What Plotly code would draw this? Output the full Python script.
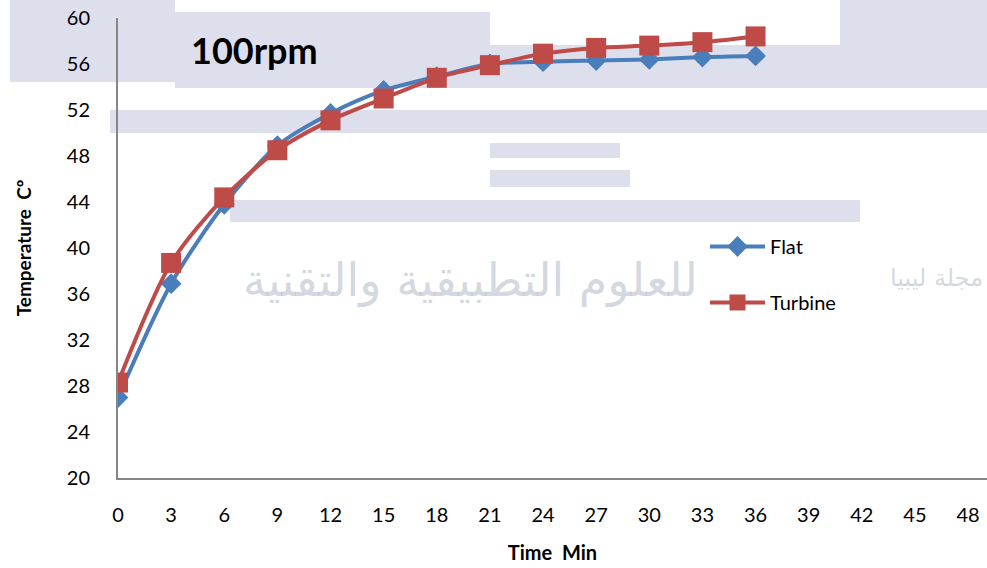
import plotly.graph_objects as go

time_min = [0, 3, 6, 9, 12, 15, 18, 21, 24, 27, 30, 33, 36]
flat = [27.0, 36.9, 43.8, 48.9, 51.7, 53.7, 54.9, 56.0, 56.2, 56.3, 56.4, 56.6, 56.7]
turbine = [28.3, 38.7, 44.4, 48.5, 51.1, 53.0, 54.8, 55.9, 56.9, 57.4, 57.6, 57.9, 58.4]
x_ticks = list(range(0, 49, 3))
y_ticks = list(range(20, 61, 4))

FONT = "Lato"
W, H = 987, 568
ML, MR, MT, MB = 118, 0, 18, 90
PW, PH = W - ML - MR, H - MT - MB


def px(x):
    return (x - ML) / PW


def py(y):
    return (H - MB - y) / PH


fig = go.Figure()
fig.add_trace(go.Scatter(
    x=time_min, y=flat, name="Flat", mode="lines+markers",
    line=dict(color="#4a7ebb", width=4, shape="spline", smoothing=0.8),
    marker=dict(symbol="diamond", size=16, color="#4a7ebb"),
    legendgroup="a",
))
fig.add_trace(go.Scatter(
    x=time_min, y=turbine, name="Turbine", mode="lines+markers",
    line=dict(color="#be4b48", width=4, shape="spline", smoothing=0.8),
    marker=dict(symbol="square", size=20, color="#be4b48"),
    legendgroup="b",
))

# faint watermark bands of the scanned page (decoration, pixel boxes)
bands = [
    (10, 175, 0, 82),
    (175, 490, 12, 88),
    (490, 987, 45, 88),
    (840, 987, 0, 45),
    (110, 987, 110, 133),
    (490, 620, 143, 158),
    (490, 630, 170, 187),
    (230, 860, 200, 222),
]
for x0, x1, y0, y1 in bands:
    fig.add_shape(type="rect", xref="paper", yref="paper",
                  x0=px(x0), x1=px(x1), y0=py(y1), y1=py(y0),
                  fillcolor="rgba(208,210,230,0.7)", line=dict(width=0), layer="below")

WM = "rgba(175,183,198,0.55)"
fig.add_annotation(
    text="للعلوم التطبيقية والتقنية", xref="paper", yref="paper",
    x=px(700), y=py(280), xanchor="right", yanchor="middle", showarrow=False,
    font=dict(family="DejaVu Sans", size=46, color=WM),
)
fig.add_annotation(
    text="مجلة ليبيا", xref="paper", yref="paper",
    x=px(985), y=py(278), xanchor="right", yanchor="middle", showarrow=False,
    font=dict(family="DejaVu Sans", size=24, color=WM),
)

fig.add_annotation(
    text="<b>100rpm</b>", xref="paper", yref="paper", x=px(189), y=py(50),
    xanchor="left", yanchor="middle", showarrow=False,
    font=dict(family=FONT, size=36, color="black"),
)

fig.update_layout(
    width=W, height=H,
    margin=dict(l=ML, r=MR, t=MT, b=MB),
    paper_bgcolor="white", plot_bgcolor="rgba(0,0,0,0)",
    showlegend=True,
    legend=dict(x=px(705), y=py(227), xanchor="left", yanchor="top",
                font=dict(family=FONT, size=20, color="black"),
                bgcolor="rgba(0,0,0,0)", tracegroupgap=27, itemwidth=55),
    xaxis=dict(
        range=[0, 49.07], tickvals=x_ticks, showgrid=False, zeroline=False,
        showline=True, linecolor="#868686", linewidth=2,
        ticks="outside", ticklen=18, tickcolor="rgba(0,0,0,0)",
        tickfont=dict(family=FONT, size=20, color="black"),
        title=dict(text="<b>Time  Min</b>", font=dict(family=FONT, size=20, color="black"), standoff=21),
    ),
    yaxis=dict(
        range=[20, 60], tickvals=y_ticks, showgrid=False, zeroline=False,
        showline=True, linecolor="#868686", linewidth=2,
        ticks="outside", ticklen=22, tickcolor="rgba(0,0,0,0)",
        tickfont=dict(family=FONT, size=20, color="black"),
        title=dict(text="<b>Temperature  Cº</b>", font=dict(family=FONT, size=19, color="black"), standoff=30),
    ),
)

fig.write_html("out.html")
